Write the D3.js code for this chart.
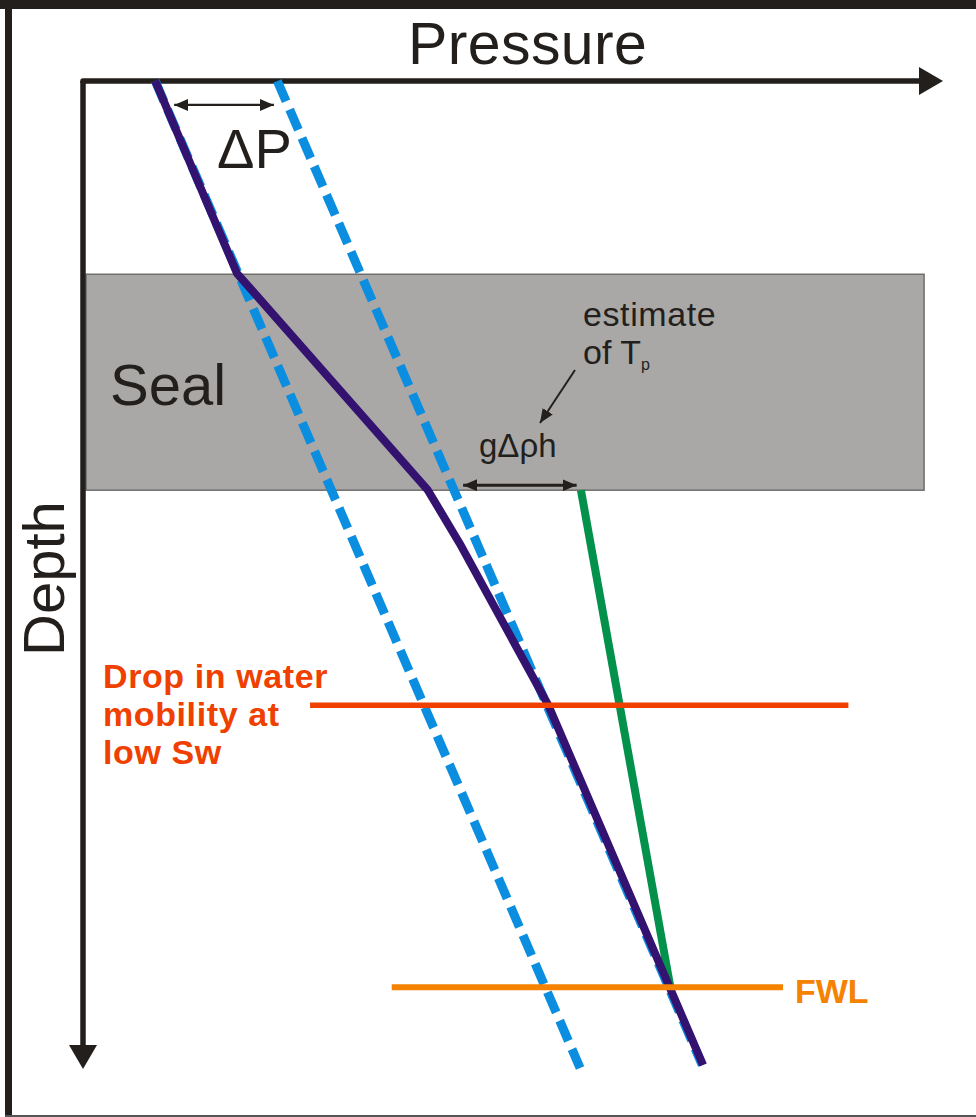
<!DOCTYPE html>
<html>
<head>
<meta charset="utf-8">
<script src="https://cdn.jsdelivr.net/npm/d3@7"></script>
<style>
  html, body { margin: 0; padding: 0; background: #fff; }
  text { font-family: "Liberation Sans", Arial, sans-serif; }
</style>
</head>
<body>
<div id="chart"></div>
<script>
// pressure / depth in arbitrary units (0..100 along each axis)
const purpleLine = [[8.4, 0], [17.9, 19.5], [40.1, 41.5], [43.8, 46.9], [54.1, 63.3], [72.1, 99.8]];
const dashLeft = [[8.4, 0], [57.8, 100.1]];
const dashRight = [[22.6, 0], [72.0, 99.8]];
const greenLine = [[57.9, 41.5], [68.3, 91.9]];
const sealDepth = [19.6, 41.5];
const sealPressure = [0.35, 97.8];
const dropDepth = 63.3, dropRange = [26.4, 89.0];
const fwlDepth = 91.9, fwlRange = [35.9, 81.4];
const deltaP = {depth: 2.43, from: 10.6, to: 22.2};
const gdrh = {depth: 41.0, from: 44.2, to: 57.4};
const dropLabel = ['Drop in water', 'mobility at', 'low Sw'];

const W = 976, H = 1117;
const svg = d3.select('#chart').append('svg')
  .attr('width', W).attr('height', H);

const x = d3.scaleLinear().domain([0, 100]).range([83, 943]);
const y = d3.scaleLinear().domain([0, 100]).range([81, 1067]);
const line = d3.line().x(d => x(d[0])).y(d => y(d[1]));

// frame
svg.append('rect').attr('x', 0).attr('y', 0).attr('width', W).attr('height', 9).attr('fill', '#231f1c');
svg.append('rect').attr('x', 5).attr('y', 0).attr('width', 7).attr('height', H).attr('fill', '#231f1c');
svg.append('rect').attr('x', 5).attr('y', 1115).attr('width', W).attr('height', 2).attr('fill', '#555');

const defs = svg.append('defs');
const mk = (id, w, h, color, orient, refX) => defs.append('marker')
  .attr('id', id).attr('viewBox', `0 ${-h} ${w} ${2 * h}`)
  .attr('refX', refX).attr('refY', 0)
  .attr('markerWidth', w).attr('markerHeight', 2 * h)
  .attr('markerUnits', 'userSpaceOnUse')
  .attr('orient', orient)
  .append('path').attr('d', `M0,${-h}L${w},0L0,${h}Z`).attr('fill', color);
mk('bigArrow', 24, 14, '#231f1c', 'auto', 1);
mk('smallArrow', 14, 6, '#231f1c', 'auto-start-reverse', 14);
mk('tpArrow', 14, 6, '#231f1c', 'auto', 14);

// seal
svg.append('rect')
  .attr('x', x(sealPressure[0])).attr('y', y(sealDepth[0]))
  .attr('width', x(sealPressure[1]) - x(sealPressure[0]))
  .attr('height', y(sealDepth[1]) - y(sealDepth[0]))
  .attr('fill', '#a9a8a7').attr('stroke', '#6f6e6d').attr('stroke-width', 1.5);

svg.append('text').attr('x', 110).attr('y', 405)
  .attr('font-size', 58).attr('fill', '#231f1c').text('Seal');

// axes
svg.append('path')
  .attr('d', `M${x(0)},${y(0) + 2}L${x(0)},${y(0)}L${x(100) - 23},${y(0)}`)
  .attr('fill', 'none').attr('stroke', '#231f1c').attr('stroke-width', 5.5)
  .attr('stroke-linejoin', 'round')
  .attr('marker-end', 'url(#bigArrow)');
svg.append('path')
  .attr('d', `M${x(0)},${y(0)}L${x(0)},${y(100) - 21}`)
  .attr('fill', 'none').attr('stroke', '#231f1c').attr('stroke-width', 5.5)
  .attr('marker-end', 'url(#bigArrow)');

svg.append('text').attr('x', 408).attr('y', 64)
  .attr('font-size', 59).attr('fill', '#231f1c').attr('letter-spacing', 0.4).text('Pressure');
svg.append('text').attr('transform', 'translate(64,656) rotate(-90)')
  .attr('font-size', 58).attr('fill', '#231f1c').text('Depth');

// hydrostatic gradients (dashed)
[dashLeft, dashRight].forEach(d => {
  svg.append('path').attr('d', line(d))
    .attr('fill', 'none').attr('stroke', '#0b8de0').attr('stroke-width', 9)
    .attr('stroke-dasharray', '22,9');
});

// green line
svg.append('path').attr('d', line(greenLine))
  .attr('fill', 'none').attr('stroke', '#04914b').attr('stroke-width', 8);

// pressure profile
svg.append('path').attr('d', line(purpleLine))
  .attr('fill', 'none').attr('stroke', '#331270').attr('stroke-width', 8)
  .attr('stroke-linejoin', 'round');

// horizontal markers
svg.append('line')
  .attr('x1', x(dropRange[0])).attr('x2', x(dropRange[1]))
  .attr('y1', y(dropDepth)).attr('y2', y(dropDepth))
  .attr('stroke', '#ef4000').attr('stroke-width', 5.5);
svg.append('line')
  .attr('x1', x(fwlRange[0])).attr('x2', x(fwlRange[1]))
  .attr('y1', y(fwlDepth)).attr('y2', y(fwlDepth))
  .attr('stroke', '#f58200').attr('stroke-width', 6);

svg.append('text').attr('x', 795).attr('y', 1003)
  .attr('font-size', 34).attr('font-weight', 'bold').attr('fill', '#f58200').text('FWL');

svg.append('g').selectAll('text').data(dropLabel).join('text')
  .attr('x', 103).attr('y', (d, i) => 688 + i * 38)
  .attr('font-size', 34).attr('font-weight', 'bold').attr('fill', '#ef4000')
  .attr('letter-spacing', 0.6)
  .text(d => d);

// double arrows
[deltaP, gdrh].forEach(a => {
  svg.append('line')
    .attr('x1', x(a.from)).attr('x2', x(a.to))
    .attr('y1', y(a.depth)).attr('y2', y(a.depth))
    .attr('stroke', '#231f1c').attr('stroke-width', a === gdrh ? 3 : 2.2)
    .attr('marker-start', 'url(#smallArrow)').attr('marker-end', 'url(#smallArrow)');
});

svg.append('text').attr('x', 217).attr('y', 168)
  .attr('font-size', 56).attr('fill', '#231f1c').text('ΔP');
svg.append('text').attr('x', 479).attr('y', 457)
  .attr('font-size', 33).attr('fill', '#231f1c').text('gΔρh');

// estimate of Tp
svg.append('text').attr('x', 583).attr('y', 326)
  .attr('font-size', 34).attr('fill', '#231f1c').attr('letter-spacing', 0.6).text('estimate');
const t2 = svg.append('text').attr('x', 583).attr('y', 364)
  .attr('font-size', 34).attr('fill', '#231f1c');
t2.append('tspan').text('of T');
t2.append('tspan').attr('font-size', 16).attr('dy', 6).text('p');
svg.append('line')
  .attr('x1', 575).attr('y1', 370).attr('x2', 540).attr('y2', 423)
  .attr('stroke', '#231f1c').attr('stroke-width', 2)
  .attr('marker-end', 'url(#tpArrow)');
</script>
</body>
</html>
